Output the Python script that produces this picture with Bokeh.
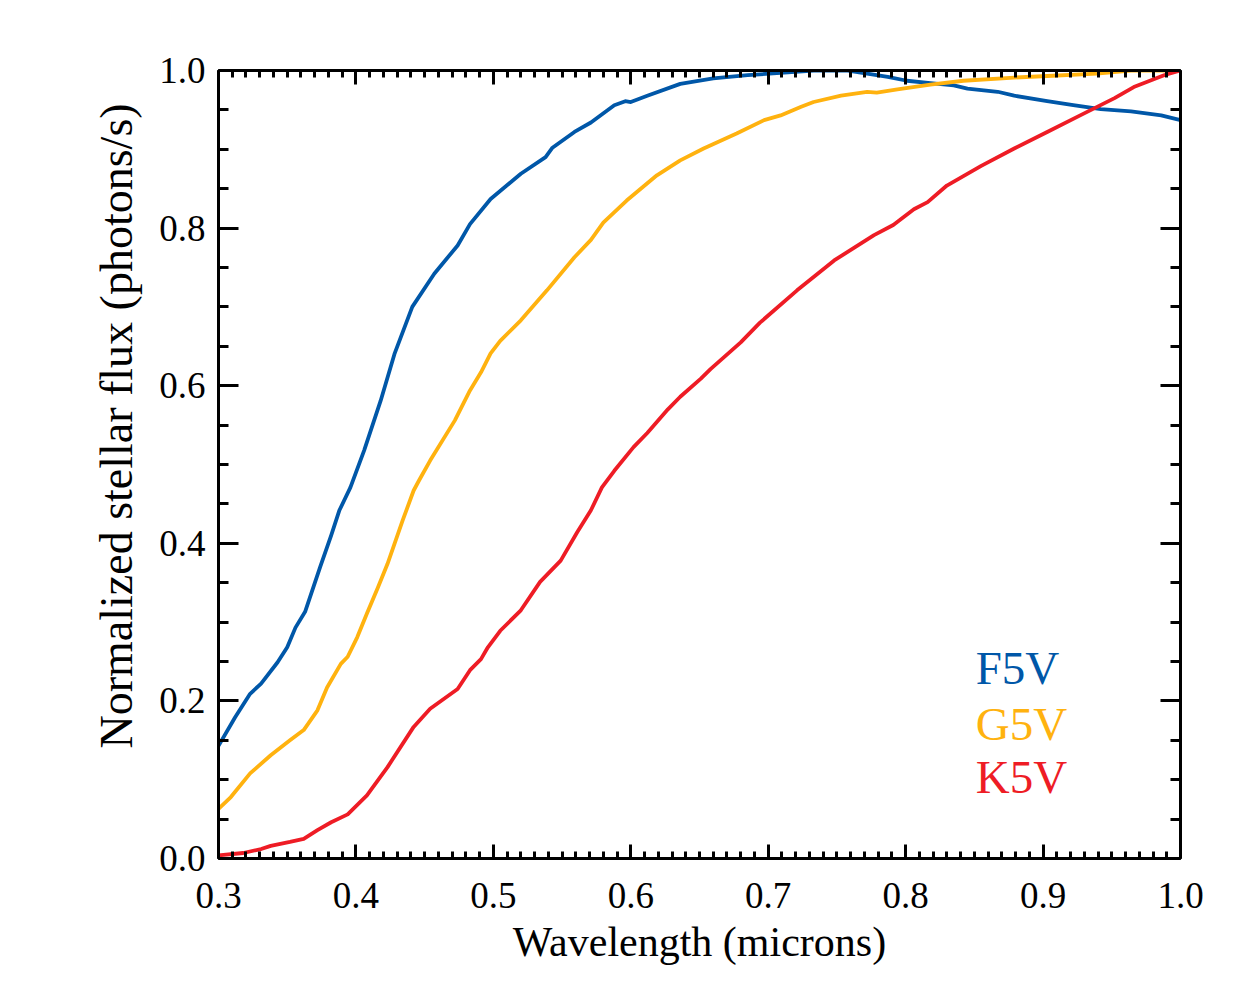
from bokeh.plotting import figure
from bokeh.models import (LinearAxis, SingleIntervalTicker, CustomJSTickFormatter,
                          PrintfTickFormatter, ColumnDataSource, Range1d, Title)
from bokeh.core.properties import value
from bokeh.embed import file_html
from bokeh.resources import INLINE

# ---- data ----
f5v_wl = [0.300, 0.312, 0.323, 0.331, 0.343, 0.350, 0.356, 0.363, 0.374, 0.382,
          0.388, 0.396, 0.406, 0.418, 0.428, 0.441, 0.457, 0.474, 0.483, 0.498,
          0.520, 0.538, 0.543, 0.559, 0.571, 0.588, 0.596, 0.600, 0.612, 0.636,
          0.660, 0.685, 0.709, 0.733, 0.758, 0.772, 0.787, 0.801, 0.818, 0.835,
          0.845, 0.867, 0.879, 0.903, 0.922, 0.942, 0.964, 0.986, 1.000]
f5v_flux = [0.143, 0.179, 0.209, 0.222, 0.249, 0.268, 0.293, 0.313, 0.370, 0.410,
            0.442, 0.471, 0.518, 0.581, 0.640, 0.700, 0.742, 0.778, 0.805, 0.837,
            0.869, 0.890, 0.902, 0.922, 0.934, 0.956, 0.961, 0.960, 0.968, 0.983,
            0.990, 0.994, 0.997, 1.000, 1.000, 0.996, 0.992, 0.987, 0.984, 0.981,
            0.977, 0.973, 0.968, 0.961, 0.956, 0.951, 0.948, 0.943, 0.937]

g5v_wl = [0.300, 0.309, 0.323, 0.338, 0.352, 0.362, 0.372, 0.379, 0.389, 0.394,
          0.401, 0.408, 0.416, 0.423, 0.434, 0.442, 0.446, 0.454, 0.472, 0.483,
          0.491, 0.498, 0.505, 0.520, 0.539, 0.559, 0.571, 0.580, 0.597, 0.619,
          0.636, 0.653, 0.677, 0.697, 0.709, 0.724, 0.733, 0.753, 0.772, 0.779,
          0.794, 0.818, 0.842, 0.879, 0.903, 0.939, 0.964, 1.000]
g5v_flux = [0.063, 0.078, 0.108, 0.131, 0.150, 0.163, 0.188, 0.217, 0.247, 0.256,
            0.281, 0.311, 0.344, 0.374, 0.429, 0.467, 0.480, 0.505, 0.556, 0.594,
            0.617, 0.641, 0.657, 0.683, 0.721, 0.763, 0.785, 0.807, 0.835, 0.867,
            0.886, 0.901, 0.920, 0.937, 0.943, 0.954, 0.960, 0.968, 0.973, 0.972,
            0.976, 0.982, 0.987, 0.991, 0.993, 0.996, 1.000, 1.000]

k5v_wl = [0.300, 0.318, 0.331, 0.338, 0.352, 0.362, 0.372, 0.382, 0.394, 0.408,
          0.423, 0.442, 0.454, 0.474, 0.483, 0.491, 0.496, 0.505, 0.520, 0.534,
          0.549, 0.561, 0.571, 0.579, 0.588, 0.602, 0.612, 0.627, 0.636, 0.651,
          0.658, 0.680, 0.694, 0.721, 0.748, 0.777, 0.791, 0.806, 0.816, 0.830,
          0.855, 0.879, 0.903, 0.927, 0.952, 0.966, 0.988, 1.000]
k5v_flux = [0.004, 0.007, 0.012, 0.016, 0.021, 0.025, 0.036, 0.046, 0.056, 0.080,
            0.116, 0.167, 0.190, 0.215, 0.239, 0.253, 0.268, 0.289, 0.315, 0.351,
            0.378, 0.414, 0.442, 0.471, 0.492, 0.522, 0.540, 0.570, 0.586, 0.609,
            0.621, 0.655, 0.680, 0.721, 0.759, 0.791, 0.804, 0.824, 0.833, 0.854,
            0.879, 0.901, 0.922, 0.943, 0.965, 0.979, 0.994, 1.000]

series_names = ["F5V", "G5V", "K5V"]
series_colors = ["#0057A8", "#FFB20F", "#EE1C25"]
x_ticks_interval = 0.1
y_ticks_interval = 0.2

FONT = "Liberation Serif"

p = figure(width=1238, height=988, output_backend="svg", toolbar_location=None,
           x_range=Range1d(0.3, 1.0), y_range=Range1d(0.0, 1.0),
           min_border_left=218, min_border_right=58, min_border_top=70,
           min_border_bottom=130, x_axis_location=None, y_axis_location=None)
p.grid.visible = False
p.outline_line_color = None
p.background_fill_color = "white"
p.border_fill_color = "white"

def style_axis(ax, is_x, show_labels):
    ax.axis_line_width = 3
    ax.axis_line_color = "black"
    ax.major_tick_line_width = 3
    ax.minor_tick_line_width = 3
    ax.major_tick_line_color = "black"
    ax.minor_tick_line_color = "black"
    ax.major_tick_out = 0
    ax.minor_tick_out = 0
    if is_x:
        ax.major_tick_in = 14
        ax.minor_tick_in = 7
    else:
        ax.major_tick_in = 20
        ax.minor_tick_in = 10
    ax.major_label_text_font = FONT
    ax.major_label_text_font_size = "37px"
    ax.major_label_text_color = "black"
    if show_labels:
        ax.formatter = PrintfTickFormatter(format="%.1f")
    else:
        ax.formatter = CustomJSTickFormatter(code="return ''")
        ax.major_label_text_font_size = "1px"
        ax.major_label_standoff = 0

xt = lambda: SingleIntervalTicker(interval=x_ticks_interval, num_minor_ticks=10)
yt = lambda: SingleIntervalTicker(interval=y_ticks_interval, num_minor_ticks=4)

xb = LinearAxis(ticker=xt(), axis_label="Wavelength (microns)")
style_axis(xb, True, True)
xb.major_label_standoff = 24
xb.axis_label_text_font = FONT
xb.axis_label_text_font_size = "42px"
xb.axis_label_text_font_style = "normal"
xb.axis_label_text_color = "black"
xb.axis_label_standoff = 8
p.add_layout(xb, "below")

yl = LinearAxis(ticker=yt())
style_axis(yl, False, True)
yl.major_label_standoff = 13
p.add_layout(yl, "left")

ytitle = Title(text="Normalized stellar flux (photons/s)", align="left",
               text_font=FONT, text_font_size="46px", text_font_style="normal",
               text_color="black", offset=110, standoff=29)
p.add_layout(ytitle, "left")

xa = LinearAxis(ticker=xt())
style_axis(xa, True, False)
p.add_layout(xa, "above")

yr = LinearAxis(ticker=yt())
style_axis(yr, False, False)
p.add_layout(yr, "right")

for wl, fl, c in [(f5v_wl, f5v_flux, series_colors[0]),
                  (g5v_wl, g5v_flux, series_colors[1]),
                  (k5v_wl, k5v_flux, series_colors[2])]:
    p.line(wl, fl, line_color=c, line_width=3.8, line_join="round")

# in-plot labels
lab = ColumnDataSource(dict(x=[0.851, 0.851, 0.851], y=[0.242, 0.171, 0.103],
                            text=series_names, color=series_colors))
p.text(x="x", y="y", text="text", text_color="color", source=lab,
       text_font=value(FONT), text_font_size=value("47px"),
       text_baseline="alphabetic", text_align="left")

open("out.html", "w").write(file_html(p, INLINE))
